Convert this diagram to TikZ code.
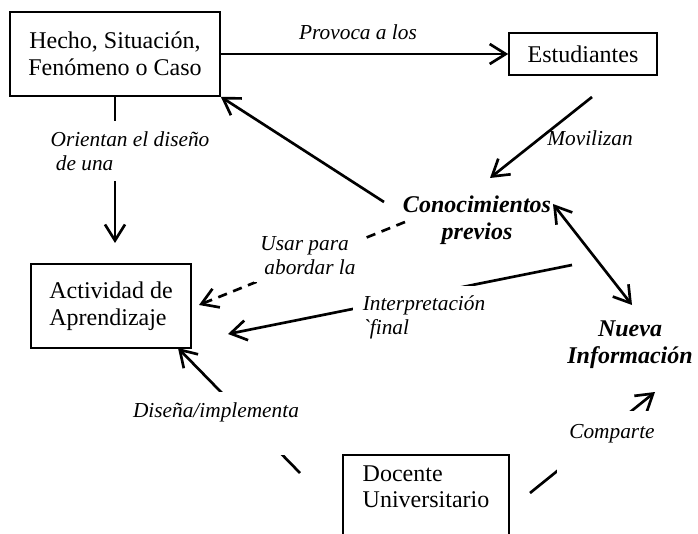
\documentclass[tikz,border=0pt]{standalone}
\usepackage{fontspec}
\setmainfont{Liberation Serif}
\usetikzlibrary{arrows.meta}

\tikzset{every picture/.style={line width=0.75pt}}
\tikzset{
  barb/.tip={Straight Barb[length=12pt,width=15pt]},
  box/.style={draw, line width=1.2pt, inner sep=0pt, font=\fontsize{18}{20}\selectfont},
  concept/.style={inner sep=0.75pt, align=center, font=\fontsize{18}{20}\selectfont\bfseries\itshape},
  lbl/.style={fill=white, inner sep=1pt, font=\fontsize{16}{18}\selectfont\itshape},
  link/.style={line width=2pt, -barb},
}

\begin{document}
\begin{tikzpicture}[x=0.75pt,y=0.75pt,yscale=-1,xscale=1]
\useasboundingbox (0,0) rectangle (698,534);
\clip (0,0) rectangle (698,534);

% Boxes
\node[box, minimum width=157.5pt, minimum height=63pt, align=center] (hecho) at (115,54) {Hecho, Situación,\\Fenómeno o Caso};
\node[box, minimum width=111pt, minimum height=31.5pt] (estud) at (583,54) {Estudiantes};
\node[box, minimum width=120pt, minimum height=63pt, align=left] (activ) at (111,306) {Actividad de\\Aprendizaje};
\node[box, minimum width=124.5pt, minimum height=68pt, align=left, anchor=north] (docente) at (426,454) {Docente\\Universitario\rule[-20pt]{0pt}{0pt}};

% Concepts
\node[concept] (conoc) at (477,220) {Conocimientos\\previos};
\node[concept] (nueva) at (630,345) {Nueva\\Información};

% Free ends of the connectors
\coordinate (actTop) at (115,243);
\coordinate (estBelow) at (592,97);
\coordinate (conTop) at (490,178);
\coordinate (conLeft) at (384,202);
\coordinate (conRight) at (553,204);
\coordinate (nueTop) at (632,305);
\coordinate (conDash) at (405,222);
\coordinate (actDash) at (199,305);
\coordinate (nueLeft) at (572,265);
\coordinate (actRight) at (228,334);
\coordinate (docLeft) at (300,473);
\coordinate (actBottom) at (178,348);
\coordinate (docRight) at (530,493);
\coordinate (nueBottom) at (655,392);

% Connectors
\draw[link] (hecho.east) -- (estud.west);
\draw[link] (hecho.south) -- (actTop);
\draw[link] (estBelow) -- (conTop);
\draw[link] (conLeft) -- (hecho.south east);
\draw[link, barb-barb] (conRight) -- (nueTop);
\draw[link, dash pattern=on 7pt off 5pt] (conDash) -- (actDash);
\draw[link] (nueLeft) -- (actRight);
\draw[link] (docLeft) -- (actBottom);
\draw[link] (docRight) -- (nueBottom);

% Labels
\node[lbl] (provoca) at (358,32) {Provoca a los};
\node[lbl, align=left, inner ysep=8pt] (orient) at (130,151) {Orientan el diseño\\\hspace{4pt}de una};
\node[lbl, fill=none] (moviliz) at (590,138) {Movilizan};
\node[lbl, align=left, inner sep=5pt] (usar) at (308,256) {Usar para\\\hspace{3pt}abordar la};
\node[lbl, align=left, inner sep=7pt] (interp) at (424,317) {Interpretación\\\textasciigrave final};
\node[lbl, anchor=base, inner xsep=2pt, inner ysep=7.5pt, text depth=21pt] (disena) at (216,417) {Diseña/implementa};
\node[lbl, anchor=base, inner xsep=9pt, inner ysep=10pt, text depth=20pt] (comparte) at (612,438) {Comparte};

\end{tikzpicture}
\end{document}
